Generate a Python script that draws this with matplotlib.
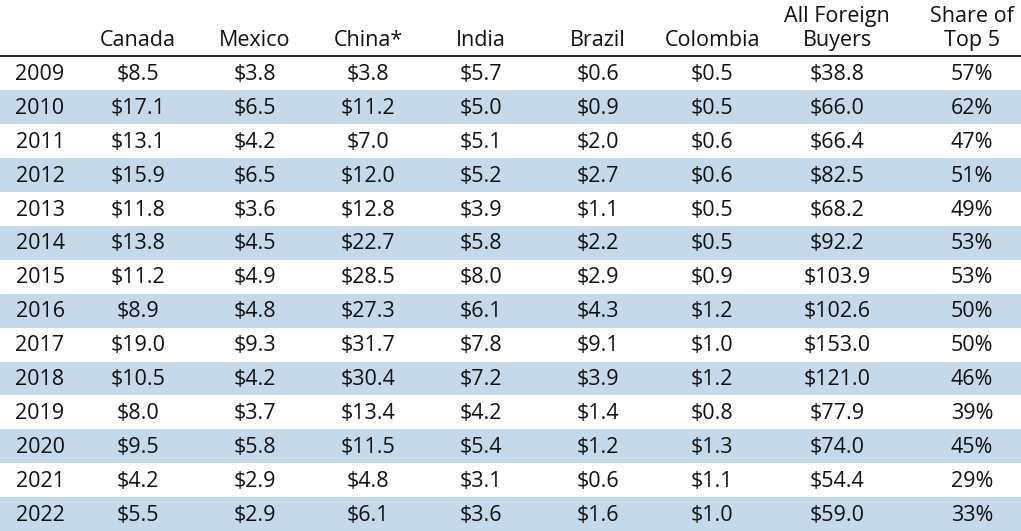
import matplotlib
matplotlib.use("Agg")
import matplotlib.pyplot as plt

years = ["2009","2010","2011","2012","2013","2014","2015","2016","2017","2018","2019","2020","2021","2022"]
canada = ["$8.5","$17.1","$13.1","$15.9","$11.8","$13.8","$11.2","$8.9","$19.0","$10.5","$8.0","$9.5","$4.2","$5.5"]
mexico = ["$3.8","$6.5","$4.2","$6.5","$3.6","$4.5","$4.9","$4.8","$9.3","$4.2","$3.7","$5.8","$2.9","$2.9"]
china = ["$3.8","$11.2","$7.0","$12.0","$12.8","$22.7","$28.5","$27.3","$31.7","$30.4","$13.4","$11.5","$4.8","$6.1"]
india = ["$5.7","$5.0","$5.1","$5.2","$3.9","$5.8","$8.0","$6.1","$7.8","$7.2","$4.2","$5.4","$3.1","$3.6"]
brazil = ["$0.6","$0.9","$2.0","$2.7","$1.1","$2.2","$2.9","$4.3","$9.1","$3.9","$1.4","$1.2","$0.6","$1.6"]
colombia = ["$0.5","$0.5","$0.6","$0.6","$0.5","$0.5","$0.9","$1.2","$1.0","$1.2","$0.8","$1.3","$1.1","$1.0"]
all_foreign = ["$38.8","$66.0","$66.4","$82.5","$68.2","$92.2","$103.9","$102.6","$153.0","$121.0","$77.9","$74.0","$54.4","$59.0"]
share_top5 = ["57%","62%","47%","51%","49%","53%","53%","50%","50%","46%","39%","45%","29%","33%"]
headers = ["", "Canada", "Mexico", "China*", "India", "Brazil", "Colombia", "All Foreign\nBuyers", "Share of\nTop 5"]

cols = [years, canada, mexico, china, india, brazil, colombia, all_foreign, share_top5]
xs = [40, 138, 255, 368, 481, 598, 712, 837, 972]

W, H = 1021, 531
fig = plt.figure(figsize=(W/100, H/100), dpi=100)
ax = fig.add_axes([0, 0, 1, 1])
ax.set_xlim(0, W); ax.set_ylim(H, 0); ax.axis("off")

top = 56.5
rh = (H - top) / len(years)
font = "Open Sans"
for i in range(len(years)):
    y0 = top + i * rh
    if i % 2 == 1:
        ax.add_patch(plt.Rectangle((0, y0), W, rh, color="#C5D9EB", lw=0))
    for x, col in zip(xs, cols):
        ax.text(x, y0 + rh/2 + 1, col[i], ha="center", va="center", fontsize=15.5,
                family=font, color="#111111")
ax.plot([0, W], [top - 1, top - 1], color="black", lw=1.2)
for x, h in zip(xs, headers):
    ax.text(x, 51, h, ha="center", va="bottom", fontsize=15.5, family=font,
            color="#111111", linespacing=1.2)
fig.savefig("out.png", dpi=100)
